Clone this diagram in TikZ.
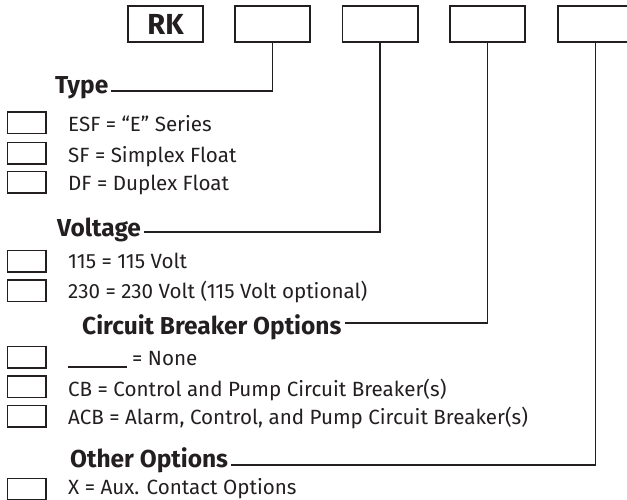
\documentclass[tikz,border=0pt]{standalone}
\usepackage{fontspec}
\setmainfont{Fira Sans}
\definecolor{ink}{HTML}{231F20}
\usepackage{tikz}
\usetikzlibrary{positioning}

\begin{document}
\begin{tikzpicture}[x=1pt, y=-1pt,
  code/.style={draw=ink, line width=1.6pt, minimum width=75.4pt,
               minimum height=36.4pt, inner sep=0pt, text=ink,
               font=\fontsize{29}{32}\selectfont\bfseries},
  chk/.style={draw=ink, line width=1.5pt, minimum width=38.5pt,
              minimum height=21.5pt, inner sep=0pt},
  head/.style={anchor=base west, inner xsep=3pt, inner ysep=0pt, text=ink,
               font=\fontsize{24.5}{27}\selectfont\bfseries},
  item/.style={anchor=base west, inner sep=0pt, text=ink,
               font=\fontsize{20.6}{23}\selectfont},
  link/.style={draw=ink, line width=1.4pt}
]
\useasboundingbox (0,0) rectangle (627,499);

% model code boxes
\node[code] (rk)   at (165.5,24) {RK};
\node[code] (type-box)  at (272.5,24) {};
\node[code] (volt-box)  at (380,24)   {};
\node[code] (cb-box)    at (487.5,24) {};
\node[code] (opt-box)   at (595.5,24) {};

% headers
\node[head] (type) at (52,93)  {Type};
\node[head] (volt) at (54,236) {Voltage};
\node[head] (cb)   at (79,334) {Circuit Breaker Options};
\node[head] (opt)  at (67,467) {Other Options};

\draw[link] (type-box.south) |- (type.east |- 0,91);
\draw[link] (volt-box.south) |- (volt.east |- 0,232);
\draw[link] (cb-box.south)   |- (cb.east |- 0,323);
\draw[link] (opt-box.south)  |- (opt.east |- 0,465);

% type
\node[chk] (t1) at (26.5,122.5) {};
\node[chk] (t2) at (26.5,153)   {};
\node[chk] (t3) at (26.5,182)   {};
\node[item] (esf) at (68,131) {ESF = “E” Series};
\node[item] (sf)  at (68,162) {SF = Simplex Float};
\node[item] (df)  at (68,190) {DF = Duplex Float};

% voltage
\node[chk] (v1) at (26.5,261)   {};
\node[chk] (v2) at (26.5,290.5) {};
\node[item] (v115) at (68,268) {115 = 115 Volt};
\node[item] (v230) at (68,298) {230 = 230 Volt (115 Volt optional)};

% circuit breaker
\node[chk] (c1) at (26.5,357)   {};
\node[chk] (c2) at (26.5,386.5) {};
\node[chk] (c3) at (26.5,416)   {};
\node[item] (none) at (68,365) {\rule[-2.5pt]{59pt}{1.1pt}\hspace{5pt}= None};
\node[item] (cbo)  at (68,396) {CB = Control and Pump Circuit Breaker(s)};
\node[item] (acb)  at (68,424) {ACB = Alarm, Control, and Pump Circuit Breaker(s)};

% other
\node[chk] (o1) at (26.5,489) {};
\node[item] (aux) at (68,494) {X = Aux. Contact Options};

\end{tikzpicture}
\end{document}
